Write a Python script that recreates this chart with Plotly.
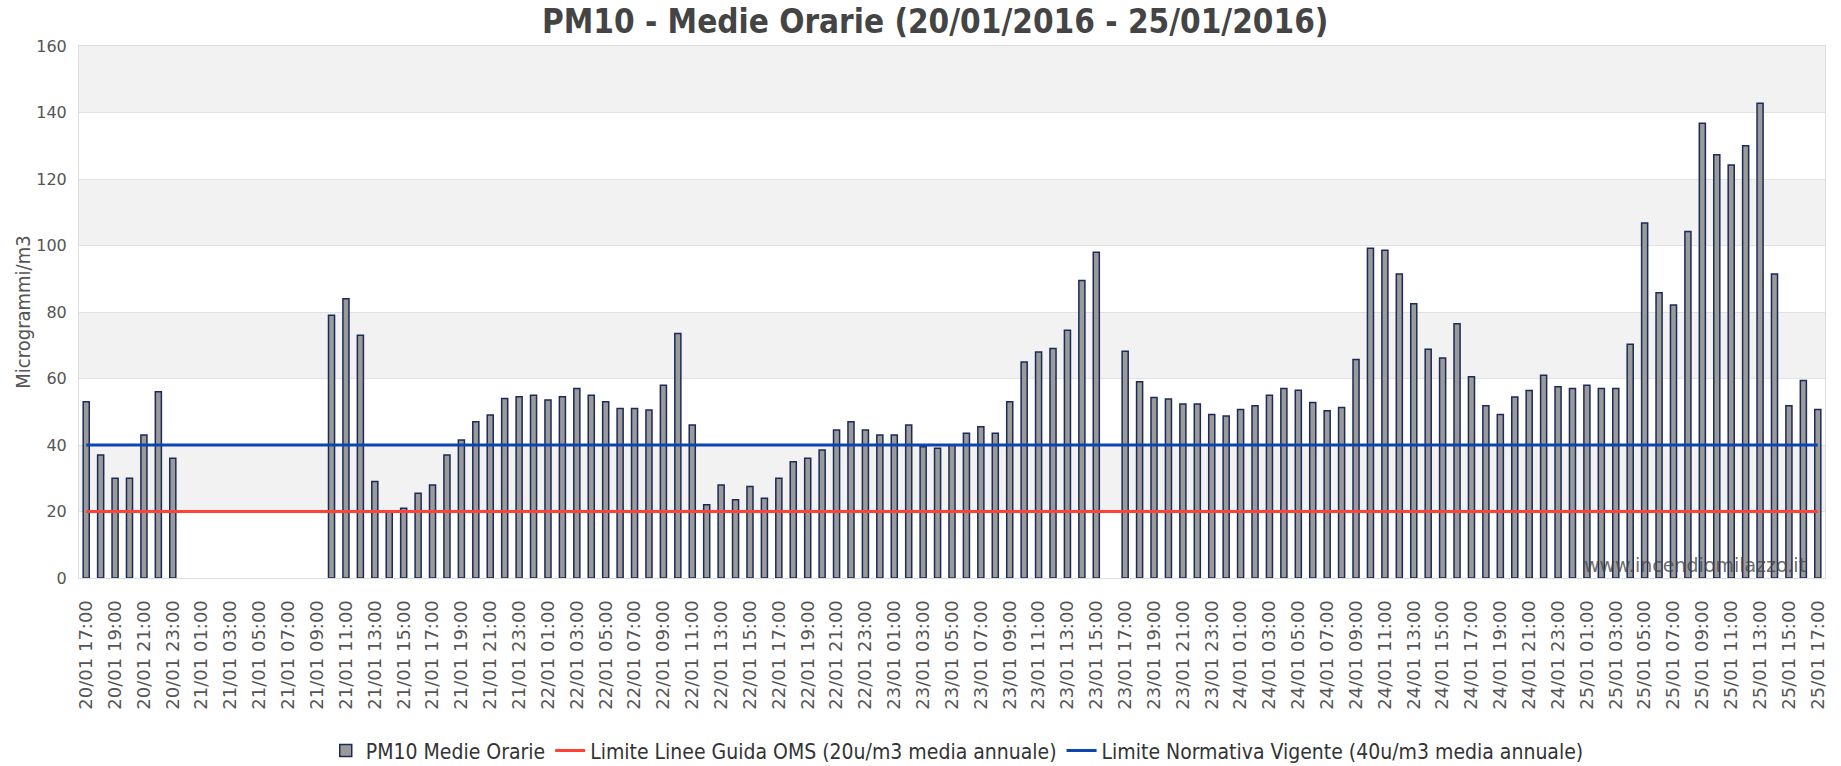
import pandas as pd
import plotly.graph_objects as go

# ---- data ----
hours = pd.date_range("2016-01-20 17:00", "2016-01-25 17:00", freq="h")
categories = [h.strftime("%d/%m %H:%M") for h in hours]
tick_labels = categories[::2]

pm10_values = [
    53, 37, 30, 30, 43, 56, 36,                                   # 20/01 17-23
    None, None, None, None, None, None, None, None, None, None,   # 21/01 00-09
    79, 84, 73, 29, 20, 21, 25.5, 28, 37, 41.5,                   # 21/01 10-19
    47, 49, 54, 54.5, 55, 53.5, 54.5, 57, 55, 53, 51, 51, 50.5, 58, 73.5, 46,  # 21/01 20 - 22/01 11
    22, 28, 23.5, 27.5, 24, 30, 35, 36, 38.5, 44.5, 47, 44.5, 43, 43, 46, 39.5, 39, 40,  # 22/01 12 - 23/01 05
    43.5, 45.5, 43.5, 53, 65, 68, 69, 74.5, 89.5, 98, None,       # 23/01 06-16
    68.2, 59, 54.3, 53.8, 52.3, 52.3, 49.2, 48.7, 50.7, 51.8, 55, 57, 56.5, 52.8, 50.3, 51.3,  # 23/01 17 - 24/01 08
    65.7, 99.2, 98.6, 91.4, 82.5, 68.8, 66.2, 76.5, 60.5, 51.8, 49.2,  # 24/01 09-19
    54.4, 56.4, 61, 57.5, 57, 58, 57, 57, 70.3, 106.8, 85.8, 82.1, 104.2,  # 24/01 20 - 25/01 08
    136.8, 127.3, 124.2, 130, 142.8, 91.4, 51.8, 59.4, 50.7,      # 25/01 09-17
]
oms_limit = [20] * len(categories)
legal_limit = [40] * len(categories)

series_names = [
    "PM10 Medie Orarie",
    "Limite Linee Guida OMS (20u/m3 media annuale)",
    "Limite Normativa Vigente (40u/m3 media annuale)",
]
y_ticks = [0, 20, 40, 60, 80, 100, 120, 140, 160]

# ---- figure ----
fig = go.Figure()
fig.add_trace(go.Bar(
    x=categories, y=pm10_values, name=series_names[0],
    width=0.42,
    marker=dict(color="#9a9a9a", line=dict(color="#1c2a58", width=1.5)),
))
fig.add_trace(go.Scatter(
    x=categories, y=oms_limit, name=series_names[1], mode="lines",
    line=dict(color="#ff4136", width=3),
))
fig.add_trace(go.Scatter(
    x=categories, y=legal_limit, name=series_names[2], mode="lines",
    line=dict(color="#0c44b0", width=3),
))

# alternating horizontal bands
shapes = []
for lo in [20, 60, 100, 140]:
    shapes.append(dict(type="rect", xref="paper", yref="y", x0=0, x1=1,
                       y0=lo, y1=lo + 20, fillcolor="#f2f2f2", line_width=0,
                       layer="below"))

fig.update_layout(
    width=1841, height=766,
    paper_bgcolor="white", plot_bgcolor="white",
    margin=dict(l=79, r=16, t=46, b=188, autoexpand=False),
    font=dict(family="DejaVu Sans", color="#555555", size=15),
    title=dict(
        text="<b>PM10 - Medie Orarie (20/01/2016 - 25/01/2016)</b>",
        x=0.508, xanchor="center", y=0.972, yanchor="middle",
        font=dict(family="DejaVu Sans Condensed, DejaVu Sans", size=33, color="#444444"),
    ),
    shapes=shapes,
    showlegend=True,
    legend=dict(
        orientation="h", x=0.503, xanchor="center", y=-0.325, yanchor="middle",
        font=dict(family="DejaVu Sans Condensed, DejaVu Sans", size=21, color="#333333"),
        itemwidth=30, tracegroupgap=0,
    ),
    annotations=[dict(
        text="www.incendiomilazzo.it", xref="paper", yref="paper",
        x=0.990, y=0.024, xanchor="right", yanchor="middle", showarrow=False,
        font=dict(family="DejaVu Sans", size=19, color="rgba(70,70,70,0.8)"),
    )],
)
fig.update_xaxes(
    type="category", categoryorder="array", categoryarray=categories,
    tickmode="array", tickvals=tick_labels, ticktext=tick_labels,
    tickangle=-90, tickfont=dict(family="DejaVu Sans", size=18, color="#555555"),
    showgrid=False, showline=True, linecolor="#dddddd", linewidth=1, mirror=True,
    ticks="", ticklabelstandoff=14, automargin=False,
    range=[-0.5, len(categories) - 0.5],
)
fig.update_yaxes(
    range=[0, 160], tickvals=y_ticks,
    showgrid=True, gridcolor="#e2e2e2", gridwidth=1,
    showline=True, linecolor="#dddddd", linewidth=1, mirror=True,
    zeroline=False, ticks="", ticklabelstandoff=8, automargin=False,
    tickfont=dict(family="DejaVu Sans", size=16, color="#555555"),
    title=dict(text="Microgrammi/m3", standoff=0,
               font=dict(family="DejaVu Sans Condensed, DejaVu Sans", size=20, color="#555555")),
)

fig.write_html("out.html", config={"displayModeBar": False},
               post_script="document.body.style.margin='0';")
